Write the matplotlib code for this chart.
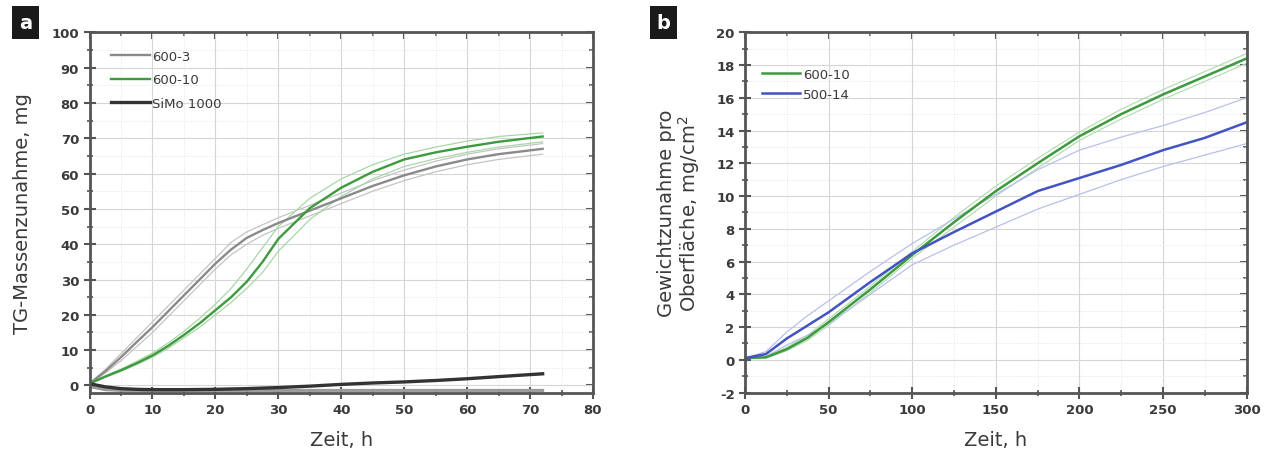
import numpy as np
import matplotlib.pyplot as plt
from matplotlib.ticker import MultipleLocator

plt.rcParams['axes.unicode_minus'] = False

# panel a: TG mass gain, mg over time, h
t_a = [0, 2.5, 5, 7.5, 10, 12.5, 15, 17.5, 20, 22.5, 25, 27.5, 30, 35, 40, 45, 50, 55, 60, 65, 72]
tg_600_3 = [0.5, 4, 8, 12.3, 16.5, 21, 25.5, 30, 34.5, 38.5, 41.8, 44, 46, 49.5, 53, 56.5, 59.5, 62, 64, 65.5, 67]
tg_600_3_hi = [0.5, 4.5, 9, 13.5, 18, 22.5, 27, 31.5, 36, 40.5, 43.5, 45.5, 47.5, 51, 54.5, 58, 61, 63.5, 65.5, 67, 68.5]
tg_600_3_lo = [0.5, 3.5, 7, 11, 15, 19.5, 24, 28.5, 33, 37, 40, 42.5, 44.5, 48, 51.5, 55, 58, 60.5, 62.5, 64, 65.5]
tg_600_10 = [0.5, 2.5, 4.3, 6.3, 8.5, 11.2, 14.3, 17.6, 21.3, 25, 29.4, 35, 41.5, 50.2, 56, 60.5, 64, 66, 67.6, 69, 70.5]
tg_600_10_hi = [0.5, 2.7, 4.6, 6.8, 9.2, 12, 15.3, 19, 23, 27.5, 33, 39, 45, 53, 58.5, 62.5, 65.5, 67.5, 69.2, 70.5, 71.5]
tg_600_10_lo = [0.5, 2.3, 4, 5.9, 8, 10.5, 13.5, 16.5, 20, 23.5, 27.5, 32, 38, 47, 53.5, 58.5, 62, 64.2, 66, 67.5, 69]

t_simo = [0, 2.5, 5, 7.5, 10, 15, 20, 25, 30, 35, 40, 45, 50, 55, 60, 65, 72]
tg_simo = [0.5, -0.4, -0.9, -1.1, -1.2, -1.2, -1.1, -0.9, -0.6, -0.2, 0.3, 0.7, 1.0, 1.4, 1.9, 2.5, 3.3]
tg_simo_lo = [-0.3, -1.2, -1.4, -1.4, -1.4, -1.4, -1.4, -1.4, -1.4, -1.4, -1.4, -1.4, -1.4, -1.4, -1.4, -1.4, -1.4]

# panel b: weight gain per surface, mg/cm2
t_b = [0, 12.5, 25, 37.5, 50, 75, 100, 125, 150, 175, 200, 225, 250, 275, 300]
w_600_10 = [0.1, 0.15, 0.65, 1.35, 2.3, 4.3, 6.4, 8.4, 10.3, 12.0, 13.65, 15.0, 16.2, 17.3, 18.4]
w_600_10_hi = [0.1, 0.2, 0.75, 1.5, 2.5, 4.5, 6.6, 8.7, 10.6, 12.3, 13.9, 15.3, 16.5, 17.6, 18.7]
w_600_10_lo = [0.1, 0.1, 0.55, 1.2, 2.1, 4.1, 6.2, 8.1, 10.0, 11.7, 13.4, 14.7, 15.9, 17.0, 18.1]
w_500_14 = [0.1, 0.35, 1.3, 2.1, 2.9, 4.75, 6.5, 7.8, 9.05, 10.3, 11.1, 11.9, 12.8, 13.55, 14.5]
w_500_14_hi = [0.1, 0.5, 1.7, 2.7, 3.6, 5.4, 7.1, 8.6, 10.1, 11.6, 12.8, 13.6, 14.3, 15.1, 16.0]
w_500_14_lo = [0.1, 0.2, 0.9, 1.5, 2.2, 4.0, 5.8, 7.0, 8.1, 9.2, 10.1, 11.0, 11.8, 12.5, 13.2]

GRAY = '#8a8a8a'
GREEN = '#3d9a3d'
BLUE = '#4353c4'
DARK = '#333333'
SPINE = '#555555'
TXT = '#3a3a3a'


def style_axes(ax, xmaj, xmin, ymaj, ymin):
    ax.xaxis.set_major_locator(MultipleLocator(xmaj))
    ax.xaxis.set_minor_locator(MultipleLocator(xmin))
    ax.yaxis.set_major_locator(MultipleLocator(ymaj))
    ax.yaxis.set_minor_locator(MultipleLocator(ymin))
    ax.grid(which='major', color='#d6d6d6', lw=0.8)
    ax.grid(which='minor', color='#e4e4e4', lw=0.7, ls=':')
    ax.set_axisbelow(True)
    for s in ax.spines.values():
        s.set_color(SPINE)
        s.set_linewidth(2)
    ax.tick_params(which='major', direction='inout', length=8, width=1.5, color=SPINE,
                   labelsize=9.5, labelcolor=TXT)
    ax.tick_params(which='minor', direction='inout', length=4, width=1.2, color=SPINE)
    for lab in ax.get_xticklabels() + ax.get_yticklabels():
        lab.set_fontweight('bold')
    # inward ticks on top and right
    top = ax.secondary_xaxis('top')
    top.xaxis.set_major_locator(MultipleLocator(xmaj))
    top.xaxis.set_minor_locator(MultipleLocator(xmin))
    top.tick_params(which='major', direction='in', length=5, width=1.5, color=SPINE, labeltop=False)
    top.tick_params(which='minor', direction='in', length=3, width=1.2, color=SPINE)
    top.spines['top'].set_visible(False)
    right = ax.secondary_yaxis('right')
    right.yaxis.set_major_locator(MultipleLocator(ymaj))
    right.yaxis.set_minor_locator(MultipleLocator(ymin))
    right.tick_params(which='major', direction='in', length=5, width=1.5, color=SPINE, labelright=False)
    right.tick_params(which='minor', direction='in', length=3, width=1.2, color=SPINE)
    right.spines['right'].set_visible(False)


fig = plt.figure(figsize=(12.66, 4.52), dpi=100)
ax1 = fig.add_axes([0.0707, 0.1294, 0.3977, 0.7969])
ax2 = fig.add_axes([0.5885, 0.1294, 0.3961, 0.7969])

# --- a ---
ax1.plot(t_a, tg_600_3_hi, color='#c4c4c4', lw=0.9)
ax1.plot(t_a, tg_600_3_lo, color='#c4c4c4', lw=0.9)
ax1.plot(t_a, tg_600_10_hi, color='#a9d6a9', lw=0.9)
ax1.plot(t_a, tg_600_10_lo, color='#a9d6a9', lw=0.9)
ax1.plot(t_simo, tg_simo_lo, color='#9a9a9a', lw=2.2)
ax1.plot(t_a, tg_600_3, color=GRAY, lw=1.7, label='600-3')
ax1.plot(t_a, tg_600_10, color=GREEN, lw=1.7, label='600-10')
ax1.plot(t_simo, tg_simo, color=DARK, lw=2.4, label='SiMo 1000')
ax1.set_xlim(0, 80)
ax1.set_ylim(-2, 100)
style_axes(ax1, 10, 5, 10, 5)
ax1.set_xlabel('Zeit, h', fontsize=14, color=TXT, labelpad=10)
ax1.set_ylabel('TG-Massenzunahme, mg', fontsize=14, color=TXT, labelpad=14)
ax1.legend(loc='upper left', bbox_to_anchor=(0.02, 0.985), frameon=False, fontsize=9.5,
           handlelength=2.9, handletextpad=0.2, labelspacing=0.8, labelcolor=TXT)

# --- b ---
ax2.plot(t_b, w_600_10_hi, color='#b5dcb5', lw=0.9)
ax2.plot(t_b, w_600_10_lo, color='#b5dcb5', lw=0.9)
ax2.plot(t_b, w_500_14_hi, color='#b8bfec', lw=0.9)
ax2.plot(t_b, w_500_14_lo, color='#b8bfec', lw=0.9)
ax2.plot(t_b, w_600_10, color=GREEN, lw=1.8, label='600-10')
ax2.plot(t_b, w_500_14, color=BLUE, lw=1.8, label='500-14')
ax2.set_xlim(0, 300)
ax2.set_ylim(-2, 20)
style_axes(ax2, 50, 25, 2, 1)
ax2.set_xlabel('Zeit, h', fontsize=14, color=TXT, labelpad=10)
ax2.set_ylabel('Gewichtzunahme pro\nOberfläche, mg/cm$^2$', fontsize=14, color=TXT, labelpad=10,
               linespacing=1.0)
ax2.legend(loc='upper left', bbox_to_anchor=(0.01, 0.935), frameon=False, fontsize=9.5,
           handlelength=2.9, handletextpad=0.2, labelspacing=0.55, labelcolor=TXT)

# panel letters
for x0, letter in [(10, 'a'), (648, 'b')]:
    fig.text((x0 + 15.5) / 1266, 1 - 23.5 / 452, letter, color='white', fontsize=14,
             fontweight='bold', ha='center', va='center',
             bbox=dict(boxstyle='square,pad=0.35', fc='#1a1a1a', ec='none'))

fig.savefig('out.png', dpi=100)
